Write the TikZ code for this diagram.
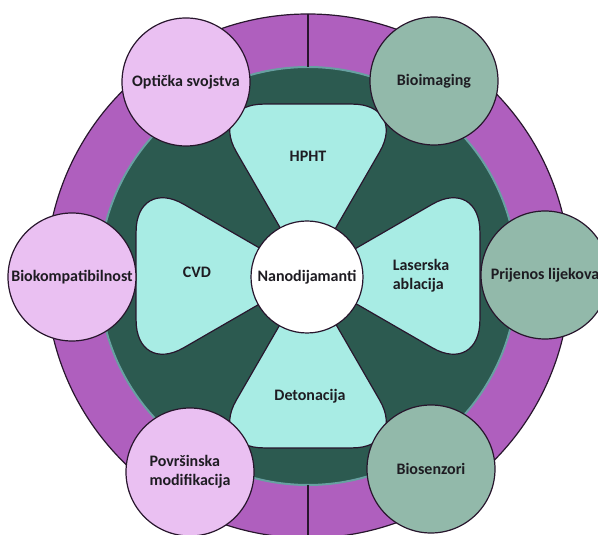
\documentclass[tikz,border=0pt]{standalone}
\usepackage{fontspec}
\setmainfont{Carlito}
\usepackage{xcolor}
\usetikzlibrary{calc}

\definecolor{ringpurple}{RGB}{175,95,190}
\definecolor{darkgreen}{RGB}{44,90,80}
\definecolor{rimteal}{RGB}{104,160,162}
\definecolor{petalcyan}{RGB}{168,236,228}
\definecolor{pinkish}{RGB}{234,192,242}
\definecolor{sage}{RGB}{146,185,170}
\definecolor{edge}{RGB}{40,22,45}
\definecolor{ink}{RGB}{30,28,34}

\begin{document}
\begin{tikzpicture}[x=1pt, y=1pt,
		outline/.style={draw=edge, line width=1.2pt},
		petal/.style={outline, fill=petalcyan, rounded corners=55pt},
		txt/.style={font=\bfseries\fontsize{16}{19}\selectfont, text=ink, align=center},
		bubble/.style={circle, outline, txt, minimum size=128pt, inner sep=0pt}]
	\def\R{262};
	\def\r{209};
	\def\s{198.5};

	\useasboundingbox (0,0) rectangle (598,535);
	\clip (0,0) rectangle (598,535);
	\coordinate (c) at (308,259);

	% ring
	\filldraw[fill=ringpurple, outline] (c) circle (\R);
	\filldraw[fill=darkgreen, draw=rimteal, line width=2pt] (c) circle (\r);
	\draw[outline] ($(c)+(0,\r)$) -- ($(c)+(0,\R)$);
	\draw[outline] ($(c)+(0,-\r)$) -- ($(c)+(0,-\R)$);

	% methods
	\foreach \a in {0,90,180,270}
		\draw[petal] (c) -- ($(c)+(\a+30:\s)$) -- ($(c)+(\a-30:\s)$) -- cycle;

	\node[txt] (hpht) at ($(c)+(0,120)$) {HPHT};
	\node[txt] (cvd) at ($(c)+(-111,4)$) {CVD};
	\node[txt, align=left] (laser) at ($(c)+(113,0)$) {Laserska\\ablacija};
	\node[txt] (deton) at ($(c)+(2,-120)$) {Detonacija};

	\node[circle, outline, fill=white, txt, minimum size=112pt, inner sep=0pt] (nano) at ($(c)+(-1,-1)$) {Nanodijamanti};

	% properties and uses
	\node[bubble, fill=pinkish] (opt) at (186,453) {Optička svojstva};
	\node[bubble, fill=sage] (bioimg) at (434,454) {Bioimaging};
	\node[bubble, fill=pinkish] (biokomp) at (72,258) {Biokompatibilnost};
	\node[bubble, fill=sage] (prijenos) at (545,260) {Prijenos lijekova};
	\node[bubble, fill=pinkish, align=left] (povrs) at (190,63) {Površinska\\modifikacija};
	\node[bubble, fill=sage] (biosenz) at (431,66) {Biosenzori};
\end{tikzpicture}
\end{document}
